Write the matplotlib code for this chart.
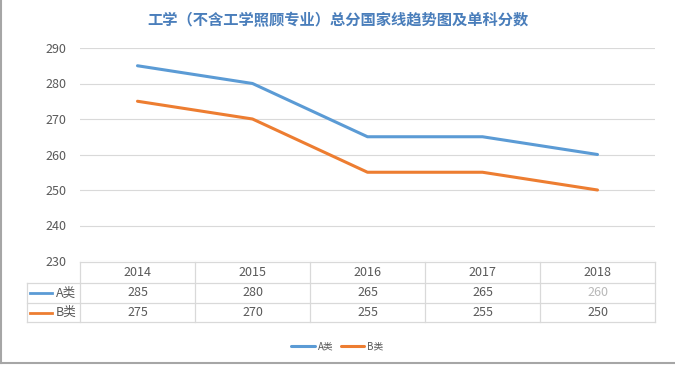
import matplotlib.pyplot as plt
from matplotlib.lines import Line2D

plt.rcParams['font.family'] = ['Noto Sans CJK SC', 'DejaVu Sans']

years = ['2014', '2015', '2016', '2017', '2018']
series_names = ['A类', 'B类']
score_a = [285, 280, 265, 265, 260]
score_b = [275, 270, 255, 255, 250]
y_ticks = [230, 240, 250, 260, 270, 280, 290]

COLORS = ['#5B9BD5', '#ED7D31']
TEXT = '#595959'
GRID = '#D9D9D9'


def main():
    fig = plt.figure(figsize=(6.75, 3.69), dpi=100)
    W, H = 675, 369
    ax = fig.add_axes([80 / W, 1 - 261 / H, 575 / W, 213 / H])

    xs = range(len(years))
    for vals, c, name in zip([score_a, score_b], COLORS, series_names):
        ax.plot(xs, vals, color=c, lw=2.2, label=name, solid_capstyle='round')

    ax.set_xlim(-0.5, len(years) - 0.5)
    ax.set_ylim(y_ticks[0], y_ticks[-1])
    ax.set_yticks(y_ticks)
    ax.set_xticks([])
    ax.grid(axis='y', color=GRID, lw=0.8)
    ax.set_axisbelow(True)
    for s in ax.spines.values():
        s.set_visible(False)
    ax.tick_params(axis='y', length=0, pad=10, labelsize=9, labelcolor=TEXT)

    # data table below the plot, in figure pixels
    def fx(px):
        return px / W

    def fy(py):
        return 1 - py / H

    col_left = 80
    col_w = 575 / len(years)
    row_y = [262, 283, 303, 322]
    lc = GRID
    for i in range(len(years) + 1):
        x = col_left + i * col_w
        fig.add_artist(Line2D([fx(x)] * 2, [fy(row_y[0]), fy(row_y[-1])], color=lc, lw=0.9))
    for j, y in enumerate(row_y):
        x0 = col_left if j == 0 else 27
        fig.add_artist(Line2D([fx(x0), fx(col_left + len(years) * col_w)], [fy(y)] * 2, color=lc, lw=0.9))
    fig.add_artist(Line2D([fx(27)] * 2, [fy(row_y[1]), fy(row_y[-1])], color=lc, lw=0.9))

    for i, yr in enumerate(years):
        cx = col_left + (i + 0.5) * col_w
        fig.text(fx(cx), fy((row_y[0] + row_y[1]) / 2), yr, ha='center', va='center',
                 fontsize=9, color=TEXT)
        for r, vals in enumerate([score_a, score_b]):
            c = '#B8B8B8' if (r == 0 and i == len(years) - 1) else TEXT
            fig.text(fx(cx), fy((row_y[r + 1] + row_y[r + 2]) / 2), str(vals[i]),
                     ha='center', va='center', fontsize=9, color=c)

    for r, (name, c) in enumerate(zip(series_names, COLORS)):
        cy = fy((row_y[r + 1] + row_y[r + 2]) / 2)
        fig.add_artist(Line2D([fx(30), fx(52)], [cy, cy], color=c, lw=2))
        fig.text(fx(56), cy, name, ha='left', va='center', fontsize=9, color=TEXT)

    fig.legend(loc='center', bbox_to_anchor=(0.5, fy(346)), ncol=2, frameon=False,
               fontsize=7, handlelength=2.4, handletextpad=0.3, columnspacing=0.8,
               labelcolor=TEXT)

    fig.text(0.5, fy(20), '工学（不含工学照顾专业）总分国家线趋势图及单科分数',
             ha='center', va='center', fontsize=11, fontweight='bold', color='#4A7EBB')

    # outer frame
    fig.add_artist(Line2D([fx(1), fx(1)], [fy(0), fy(363)], color='#A6A6A6', lw=1.5))
    fig.add_artist(Line2D([fx(1), fx(675)], [fy(363), fy(363)], color='#A6A6A6', lw=1.5))

    fig.savefig('out.png', dpi=100)


if __name__ == '__main__':
    main()
